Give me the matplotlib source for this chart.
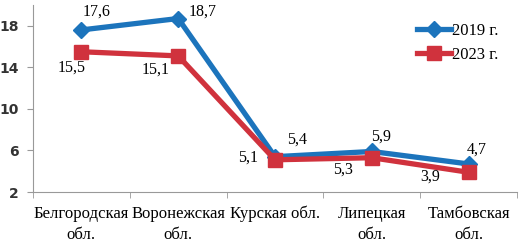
import matplotlib.pyplot as plt
import numpy as np

regions = ["Белгородская\nобл.", "Воронежская\nобл.", "Курская обл.", "Липецкая\nобл.", "Тамбовская\nобл."]
v2019 = [17.6, 18.7, 5.4, 5.9, 4.7]
v2023 = [15.5, 15.1, 5.1, 5.3, 3.9]
yticks = [2, 6, 10, 14, 18]

blue = '#1C74BC'
red = '#D0323D'
serif = 'Liberation Serif'

fig = plt.figure(figsize=(5.23, 2.5), dpi=100)
ax = fig.add_axes([33/523, 58/250, 484/523, 187/250])

x = np.arange(len(regions))
ax.plot(x, v2019, color=blue, lw=3.8, marker='D', ms=8, label='2019 г.', zorder=3)
ax.plot(x, v2023, color=red, lw=3.8, marker='s', ms=10, label='2023 г.', zorder=3)

ax.set_xlim(-0.5, 4.5)
ax.set_ylim(2, 20)
ax.set_yticks(yticks)
ax.set_xticks(x)
ax.set_xticklabels(regions, family=serif, fontsize=12, linespacing=1.45)
ax.set_xticks(np.arange(-0.5, 5, 1), minor=True)
ax.tick_params(axis='x', which='major', length=0, pad=10)
ax.tick_params(axis='x', which='minor', length=4, color='#999999')
ax.tick_params(axis='y', length=4, color='#999999', labelsize=10, pad=6)
for lab in ax.get_yticklabels():
    lab.set_fontweight('bold')
    lab.set_color('#333333')

for s in ['top', 'right']:
    ax.spines[s].set_visible(False)
for s in ['left', 'bottom']:
    ax.spines[s].set_color('#999999')

# data labels
off19 = [(0.16, 1.75), (0.25, 0.65), (0.23, 1.6), (0.1, 1.4), (0.08, 1.35)]
off23 = [(-0.1, -1.55), (-0.23, -1.34), (-0.28, 0.25), (-0.3, -1.18), (-0.4, -0.45)]
for i in range(len(x)):
    ax.text(x[i] + off19[i][0], v2019[i] + off19[i][1], f"{v2019[i]:.1f}".replace('.', ','),
            ha='center', va='center', family=serif, fontsize=11.5)
    ax.text(x[i] + off23[i][0], v2023[i] + off23[i][1], f"{v2023[i]:.1f}".replace('.', ','),
            ha='center', va='center', family=serif, fontsize=11.5)

ax.legend(loc='upper right', bbox_to_anchor=(1.0, 1.0), frameon=False,
          prop={'family': serif, 'size': 12}, handlelength=2.0, handletextpad=0.1,
          labelspacing=0.45, borderaxespad=0.7)

fig.savefig('out.png', dpi=100)
